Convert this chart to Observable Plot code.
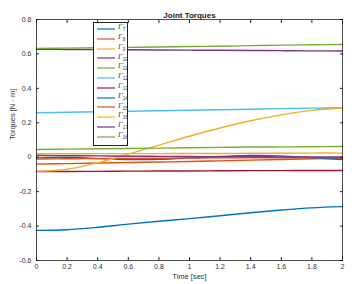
<!DOCTYPE html>
<html>
<head>
<meta charset="utf-8">
<script src="https://cdn.jsdelivr.net/npm/d3@7"></script>
<script src="https://cdn.jsdelivr.net/npm/@observablehq/plot@0.6"></script>
<style>
  body { margin: 0; background: #fff; }
  #wrap { position: relative; width: 352px; height: 284px; font-family: "Liberation Sans", Arial, sans-serif; }
  #legend { position: absolute; left: 93px; top: 22px; width: 35px; height: 124px; background: #fff; border: 1px solid #222; box-sizing: border-box; }
  .row { position: absolute; left: 3px; height: 10px; display: flex; align-items: center; }
  .row svg { display: block; }
  .lab { font-family: "DejaVu Serif", serif; font-style: italic; font-size: 7px; color: #333; margin-left: 3px; line-height: 7px; }
  .lab sub { font-size: 4.5px; font-style: normal; font-family: "Liberation Sans", sans-serif; }
</style>
</head>
<body>
<div id="wrap"><div id="legend"></div></div>
<script>
const time = [0, 0.2, 0.4, 0.6, 0.8, 1.0, 1.2, 1.4, 1.6, 1.8, 2.0];
const names = ["7","8","9","10","11","12","13","14","15","16","17","18"];
const colors = ["#0072BD","#D95319","#EDB120","#7E2F8E","#77AC30","#4DBEEE","#A2142F","#0072BD","#D95319","#EDB120","#7E2F8E","#77AC30"];
const tau7  = [-0.425,-0.421,-0.407,-0.389,-0.372,-0.357,-0.340,-0.323,-0.307,-0.294,-0.287];
const tau8  = [-0.040,-0.037,-0.034,-0.031,-0.028,-0.025,-0.021,-0.017,-0.013,-0.009,-0.006];
const tau9  = [0.020,0.020,0.021,0.021,0.021,0.022,0.022,0.023,0.023,0.024,0.024];
const tau10 = [0.627,0.626,0.625,0.624,0.623,0.622,0.621,0.620,0.619,0.618,0.617];
const tau11 = [0.632,0.634,0.636,0.638,0.640,0.643,0.645,0.648,0.651,0.653,0.655];
const tau12 = [0.258,0.261,0.264,0.267,0.270,0.273,0.276,0.279,0.282,0.285,0.287];
const tau13 = [-0.083,-0.083,-0.082,-0.081,-0.080,-0.080,-0.079,-0.078,-0.078,-0.077,-0.077];
const tau14 = [-0.005,0.000,-0.008,-0.014,-0.012,-0.005,0.004,0.010,0.008,-0.003,-0.013];
const tau15 = [-0.010,-0.009,-0.008,-0.007,-0.006,-0.005,-0.004,-0.004,-0.003,-0.003,-0.002];
const tau16 = [-0.082,-0.070,-0.032,0.018,0.070,0.122,0.170,0.212,0.246,0.272,0.286];
const tau17 = [0.010,0.009,0.008,0.006,0.005,0.004,0.003,0.003,0.002,0.002,0.002];
const tau18 = [0.045,0.047,0.049,0.051,0.053,0.055,0.057,0.059,0.060,0.061,0.062];
const series = [tau7,tau8,tau9,tau10,tau11,tau12,tau13,tau14,tau15,tau16,tau17,tau18];
const xTicks = [0,0.2,0.4,0.6,0.8,1,1.2,1.4,1.6,1.8,2];
const yTicks = [-0.6,-0.4,-0.2,0,0.2,0.4,0.6,0.8];
const title = "Joint Torques";
const xLabel = "Time [sec]";
const yLabel = "Torques [N \u00b7 m]";

const data = [];
series.forEach((vals, i) => vals.forEach((v, j) => data.push({name: names[i], t: time[j], v})));

const fmt = d => String(+d.toFixed(1));
const chart = Plot.plot({
  width: 352, height: 284,
  marginLeft: 36, marginRight: 10, marginTop: 19, marginBottom: 24,
  style: {fontFamily: "Liberation Sans, Arial, sans-serif", fontSize: "7px", color: "#333"},
  x: {domain: [0, 2]},
  y: {domain: [-0.6, 0.8]},
  color: {domain: names, range: colors},
  marks: [
    Plot.lineY(data, {x: "t", y: "v", z: "name", stroke: "name", strokeWidth: 1.4, curve: "catmull-rom"}),
    Plot.frame({stroke: "#222", strokeWidth: 0.8}),
    Plot.axisX({anchor: "bottom", ticks: xTicks, tickSize: 0, tickPadding: 4, tickFormat: fmt, label: null, fill: "#333"}),
    Plot.axisX({anchor: "bottom", ticks: xTicks, tickSize: -3, text: null, label: null, stroke: "#222"}),
    Plot.axisX({anchor: "top", ticks: xTicks, tickSize: -3, text: null, label: null, stroke: "#222"}),
    Plot.axisY({anchor: "left", ticks: yTicks, tickSize: 0, tickPadding: 5, tickFormat: fmt, label: null, fill: "#333"}),
    Plot.axisY({anchor: "left", ticks: yTicks, tickSize: -3, text: null, label: null, stroke: "#222"}),
    Plot.axisY({anchor: "right", ticks: yTicks, tickSize: -3, text: null, label: null, stroke: "#222"}),
    Plot.text([title], {frameAnchor: "top", dy: -7, fontWeight: "bold", fontSize: 8, fill: "#222"}),
    Plot.text([xLabel], {frameAnchor: "bottom", dy: 18, fontSize: 7.5, fill: "#333"}),
    Plot.text([yLabel], {frameAnchor: "left", dx: -24, rotate: -90, fontSize: 7.5, fill: "#333"})
  ]
});
const wrap = document.getElementById("wrap");
wrap.insertBefore(chart, wrap.firstChild);

const legend = document.getElementById("legend");
names.forEach((n, i) => {
  const row = document.createElement("div");
  row.className = "row";
  row.style.top = (1 + i * 9.8) + "px";
  row.innerHTML = `<svg width="18" height="4"><line x1="0" x2="18" y1="2" y2="2" stroke="${colors[i]}" stroke-width="1.2"/></svg><span class="lab">\u0393<sub>${n}</sub></span>`;
  legend.appendChild(row);
});
</script>
</body>
</html>
